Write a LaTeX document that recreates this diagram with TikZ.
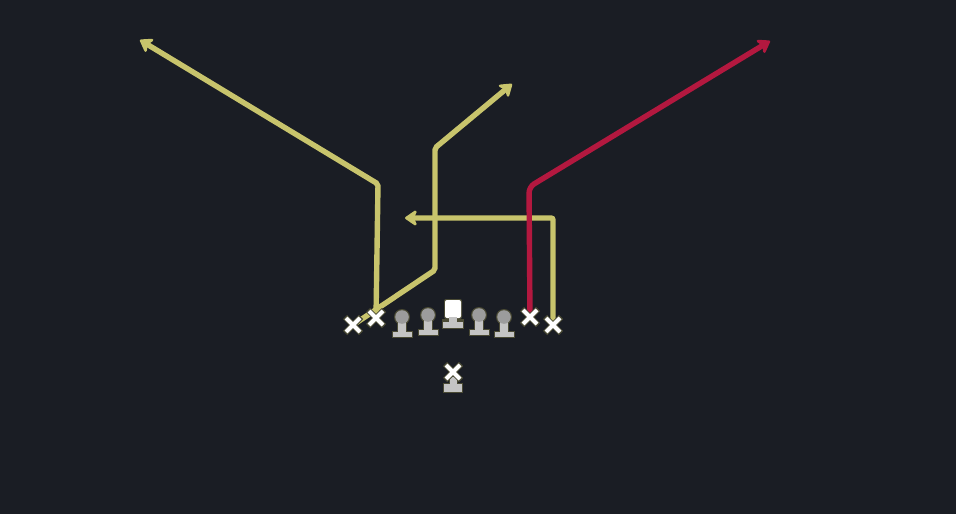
\documentclass[tikz,border=0pt]{standalone}
\usetikzlibrary{arrows.meta,shapes.misc}
\definecolor{bg}{HTML}{1A1D24}
\definecolor{routey}{HTML}{C8C46C}
\definecolor{router}{HTML}{B3183F}
\definecolor{headg}{HTML}{9C9C9C}
\definecolor{bodyg}{HTML}{C4C4C4}
\definecolor{glow}{HTML}{4A4A34}
\begin{document}
\begin{tikzpicture}[x=1pt,y=-1pt,
  route/.style={line width=5.4pt, rounded corners=2pt, line cap=round,
    -{Stealth[length=14pt,width=19pt,inset=4pt,round]}},
  yroute/.style={route, draw=routey},
  rroute/.style={route, draw=router},
  xmark/.style={cross out, draw=white, line width=4pt, minimum size=10pt, inner sep=0pt},
  xglow/.style={cross out, draw=glow, line width=6pt, minimum size=10pt, inner sep=0pt}
]
\useasboundingbox (0,0) rectangle (956,514);
\fill[bg] (0,0) rectangle (956,514);

% player positions
\coordinate (lwr) at (353,325);
\coordinate (lte) at (376,318);
\coordinate (rte) at (530,317);
\coordinate (rwr) at (553,325);
\coordinate (lt) at (402,322);
\coordinate (lg) at (428,320);
\coordinate (c) at (453,312);
\coordinate (rg) at (479,320);
\coordinate (rt) at (504,322);
\coordinate (rb) at (453,372);

% route turning points and ends
\coordinate (a1) at (378,184);
\coordinate (e1) at (140,40);
\coordinate (b1) at (435,270);
\coordinate (b2) at (435,148);
\coordinate (e2) at (512,84);
\coordinate (r1) at (529,187);
\coordinate (e3) at (770,41);
\coordinate (d1) at (553,218);
\coordinate (e4) at (405,218);

% yellow routes
\draw[yroute] (lte) -- (a1) -- (e1);
\draw[yroute] (lwr) -- (b1) -- (b2) -- (e2);
\draw[yroute] (rwr) -- (d1) -- (e4);
% red route
\draw[rroute, rounded corners=6pt] (rte) -- (r1) -- (e3);

% X marks
\foreach \p in {lwr,lte,rte,rwr}{
  \node[xglow] at (\p) {};
  \node[xmark] at (\p) {};
}

% linemen icons
\foreach \p in {lt,lg,rg,rt}{
  \begin{scope}[shift={(\p)}]
    \fill[glow] (-10.5,9) rectangle (10.5,16);
    \fill[glow] (-5,1) rectangle (5,10);
    \fill[glow] (0,-5) circle (8);
    \fill[bodyg] (-9.5,9.5) rectangle (9.5,15);
    \fill[bodyg] (-4,0) rectangle (4,10);
    \fill[headg] (0,-5) circle (6.8);
  \end{scope}
}
% center icon
\begin{scope}[shift={(c)}]
  \fill[glow, rounded corners=2pt] (-9,-13) rectangle (9,7);
  \fill[glow] (-11,7) rectangle (11,17);
  \fill[white, rounded corners=2pt] (-8,-12) rectangle (8,6);
  \fill[bodyg] (-4,5) rectangle (4,12);
  \fill[bodyg] (-10,10) rectangle (10,16);
\end{scope}
% back base
\begin{scope}[shift={(rb)}]
  \fill[glow] (-4.5,4) rectangle (4.5,14);
  \fill[glow] (-10,11) rectangle (10,21);
  \fill[bodyg] (-3.5,5) rectangle (3.5,14);
  \fill[bodyg] (-9,12) rectangle (9,20);
\end{scope}
\node[xglow] at (rb) {};
\node[xmark] at (rb) {};
\end{tikzpicture}
\end{document}
